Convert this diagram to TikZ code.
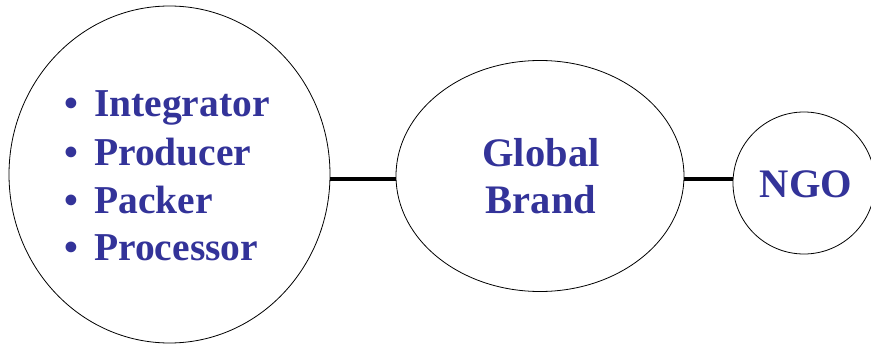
\documentclass[tikz,border=0pt]{standalone}
\usepackage{fontspec}
\setmainfont{Liberation Serif}
\usetikzlibrary{shapes.geometric}
\definecolor{txtblue}{RGB}{51,51,153}
\tikzset{
  bubble/.style={draw=black, line width=0.8pt, ellipse, inner sep=0pt, fill=white},
  conn/.style={draw=black, line width=3.6pt},
  lbl/.style={text=txtblue, font=\fontsize{39.5}{48}\selectfont\bfseries, inner sep=0pt, anchor=base west},
  clbl/.style={text=txtblue, font=\fontsize{40.5}{48}\selectfont\bfseries, inner sep=0pt, anchor=base},
}
\begin{document}
\begin{tikzpicture}[x=1pt,y=-1pt]
\useasboundingbox (0,0) rectangle (871,345);
\node[bubble, minimum width=321pt, minimum height=337pt] (big) at (169.5,174.5) {};
\node[bubble, minimum width=288pt, minimum height=231pt] (mid) at (540,176) {};
\node[bubble, minimum width=142pt, minimum height=142pt] (ngo) at (804,183) {};
\coordinate (c1) at (big.east |- 0,179);
\coordinate (c2) at (mid.west |- 0,179);
\coordinate (c3) at (mid.east |- 0,179);
\coordinate (c4) at (ngo.west |- 0,179);
\draw[conn] (c1) -- (c2);
\draw[conn] (c3) -- (c4);
\node[lbl] (l1) at (64,117) {\makebox[30pt][l]{•}Integrator};
\node[lbl] (l2) at (64,165) {\makebox[30pt][l]{•}Producer};
\node[lbl] (l3) at (64,213) {\makebox[30pt][l]{•}Packer};
\node[lbl] (l4) at (64,260) {\makebox[30pt][l]{•}Processor};
\node[clbl] (g1) at (541,166) {Global};
\node[clbl] (g2) at (541,213) {Brand};
\node[clbl] (n1) at (806,197) {NGO};
\end{tikzpicture}
\end{document}
